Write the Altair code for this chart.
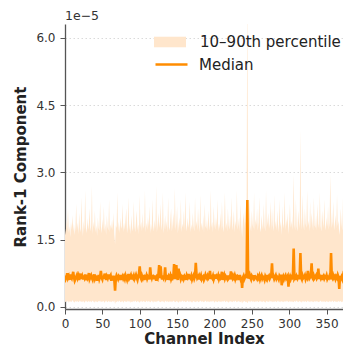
import altair as alt
import pandas as pd

# Values in units of 1e-5
median = [
0.70,0.62,0.66,0.75,0.64,0.68,0.60,0.72,0.66,0.63,0.70,0.78,0.65,0.58,0.62,0.67,
0.71,0.64,0.69,0.60,0.66,0.74,0.63,0.68,0.61,0.70,0.65,0.72,0.59,0.66,0.63,0.69,
0.75,0.62,0.66,0.70,0.64,0.60,0.67,0.72,0.63,0.68,0.66,0.58,0.64,0.71,0.62,0.67,
0.80,0.65,0.61,0.69,0.63,0.74,0.66,0.60,0.68,0.64,0.72,0.62,0.67,0.70,0.58,0.65,
0.63,0.69,0.60,0.36,0.64,0.70,0.66,0.62,0.68,0.65,0.71,0.60,0.66,0.69,0.63,0.67,
0.62,0.70,0.65,0.60,0.68,0.73,0.63,0.66,0.70,0.61,0.67,0.64,0.69,0.62,0.66,0.71,
0.65,0.60,0.68,0.74,0.90,0.66,0.62,0.69,0.64,0.71,0.60,0.67,0.65,0.70,0.63,0.68,
0.66,0.61,0.88,0.69,0.64,0.71,0.62,0.67,0.65,0.70,0.58,0.66,0.63,0.72,0.93,0.64,
0.90,0.67,0.61,0.70,0.64,0.68,0.88,0.63,0.66,0.71,0.60,0.68,0.65,0.70,0.62,0.67,
0.64,0.69,0.95,0.62,0.68,0.93,0.65,0.60,0.85,0.66,0.70,0.62,0.67,0.64,0.71,0.63,
0.68,0.65,0.60,0.70,0.66,0.73,0.62,0.67,0.64,0.69,0.61,0.66,0.70,0.63,0.68,0.98,
0.72,0.64,0.67,0.61,0.69,0.65,0.70,0.62,0.66,0.68,0.60,0.64,0.71,0.66,0.63,0.69,
0.65,0.70,0.80,0.62,0.67,0.64,0.69,0.61,0.66,0.72,0.63,0.68,0.65,0.70,0.62,0.67,
0.64,0.69,0.78,0.60,0.66,0.71,0.63,0.68,0.65,0.62,0.70,0.64,0.67,0.61,0.79,0.66,
0.63,0.69,0.65,0.70,0.62,0.67,0.64,0.68,0.66,0.60,0.71,0.63,0.67,0.42,0.65,0.69,
0.62,0.66,0.70,0.64,2.38,0.63,0.68,0.72,0.65,0.61,0.69,0.66,0.63,0.70,0.64,0.67,
0.65,0.62,0.68,0.64,0.69,0.61,0.66,0.70,0.63,0.67,0.65,0.60,0.68,0.64,0.71,0.62,
0.66,0.69,0.63,0.67,0.70,0.97,0.64,0.68,0.62,0.66,0.70,0.63,0.67,0.65,0.61,0.69,
0.66,0.72,0.48,0.64,0.68,0.62,0.67,0.70,0.63,0.66,0.69,0.45,0.64,0.68,0.62,0.67,
0.65,0.70,1.30,0.63,0.66,0.60,0.68,0.64,0.71,0.62,0.67,1.20,0.65,0.61,0.69,0.64,
0.66,0.70,0.62,0.67,0.64,0.80,0.68,0.63,0.66,0.71,0.97,0.65,0.62,0.69,0.64,0.67,
0.70,0.63,0.66,0.85,0.62,0.68,0.64,0.71,0.60,0.66,0.69,0.63,0.67,0.65,0.70,0.62,
0.66,0.64,0.69,0.61,1.20,0.66,0.63,0.70,0.65,0.68,0.62,0.67,0.64,0.71,0.66,0.40,
0.69,0.63,0.67,0.62,0.70,0.65,0.68,0.60,0.66,0.71,0.63,0.67,0.64,0.69,0.62,0.66,
]

p10 = [
0.12,0.10,0.13,0.11,0.14,0.09,0.12,0.13,0.10,0.12,0.15,0.11,0.12,0.09,0.13,0.12,
0.11,0.13,0.10,0.12,0.14,0.11,0.12,0.10,0.13,0.12,0.09,0.11,0.14,0.12,0.10,0.13,
0.12,0.11,0.13,0.10,0.12,0.14,0.11,0.12,0.09,0.13,0.12,0.10,0.11,0.13,0.12,0.14,
0.10,0.12,0.11,0.13,0.12,0.09,0.12,0.14,0.11,0.10,0.13,0.12,0.11,0.12,0.10,0.13,
0.12,0.11,0.14,0.06,0.12,0.10,0.13,0.11,0.12,0.14,0.10,0.12,0.11,0.13,0.09,0.12,
0.13,0.11,0.12,0.10,0.14,0.12,0.11,0.13,0.09,0.12,0.10,0.13,0.12,0.11,0.14,0.12,
0.10,0.13,0.12,0.11,0.09,0.12,0.14,0.10,0.12,0.13,0.11,0.12,0.10,0.14,0.12,0.11,
0.13,0.12,0.10,0.11,0.14,0.12,0.09,0.13,0.11,0.12,0.10,0.13,0.12,0.14,0.11,0.12,
0.10,0.12,0.13,0.11,0.12,0.09,0.14,0.12,0.11,0.13,0.10,0.12,0.12,0.11,0.13,0.10,
0.12,0.14,0.11,0.12,0.10,0.13,0.12,0.11,0.09,0.12,0.13,0.10,0.12,0.14,0.11,0.12,
0.13,0.10,0.12,0.11,0.14,0.12,0.10,0.13,0.12,0.11,0.09,0.12,0.13,0.11,0.12,0.10,
0.12,0.13,0.11,0.10,0.12,0.14,0.12,0.11,0.13,0.10,0.12,0.11,0.14,0.12,0.10,0.13,
0.11,0.12,0.10,0.13,0.12,0.11,0.14,0.12,0.09,0.13,0.11,0.12,0.10,0.12,0.13,0.11,
0.12,0.10,0.13,0.12,0.11,0.14,0.12,0.10,0.13,0.11,0.12,0.09,0.12,0.13,0.11,0.12,
0.10,0.13,0.12,0.11,0.14,0.12,0.10,0.12,0.13,0.11,0.12,0.10,0.13,0.07,0.12,0.11,
0.13,0.12,0.10,0.12,0.08,0.11,0.13,0.12,0.10,0.14,0.12,0.11,0.13,0.10,0.12,0.12,
0.11,0.13,0.12,0.10,0.12,0.14,0.11,0.12,0.10,0.13,0.12,0.11,0.09,0.12,0.13,0.11,
0.12,0.10,0.14,0.12,0.11,0.13,0.10,0.12,0.12,0.11,0.13,0.10,0.12,0.14,0.11,0.12,
0.10,0.13,0.12,0.11,0.12,0.10,0.13,0.12,0.11,0.14,0.12,0.10,0.13,0.11,0.12,0.12,
0.11,0.12,0.10,0.13,0.12,0.11,0.14,0.12,0.10,0.12,0.13,0.11,0.12,0.09,0.13,0.12,
0.12,0.11,0.13,0.10,0.12,0.14,0.11,0.12,0.10,0.13,0.12,0.11,0.12,0.10,0.13,0.12,
0.11,0.13,0.12,0.10,0.12,0.11,0.14,0.12,0.10,0.13,0.11,0.12,0.12,0.10,0.13,0.11,
0.12,0.10,0.13,0.12,0.11,0.12,0.14,0.10,0.12,0.13,0.11,0.12,0.10,0.12,0.13,0.11,
0.12,0.13,0.10,0.12,0.11,0.14,0.12,0.10,0.13,0.12,0.11,0.12,0.10,0.13,0.12,0.11,
]

p90 = [
1.75,1.60,1.95,1.70,2.20,1.65,1.80,1.55,1.90,1.72,2.05,1.68,1.85,1.60,1.78,2.30,
1.70,1.88,1.62,2.10,1.75,1.66,2.45,1.80,1.58,1.92,1.70,2.60,1.76,1.64,1.98,1.72,
1.85,2.20,1.68,1.80,2.70,1.62,1.90,1.74,2.15,1.66,1.82,1.58,2.00,1.76,1.70,2.35,
1.80,1.64,1.96,1.72,2.25,1.68,1.86,1.60,2.05,1.78,1.70,2.40,1.66,1.84,1.74,1.95,
1.70,2.10,1.62,1.40,1.82,1.76,2.55,1.68,1.90,1.64,2.00,1.74,1.80,2.30,1.66,1.88,
1.72,1.95,2.20,1.64,1.78,2.45,1.70,1.86,1.62,2.05,1.76,1.68,2.35,1.80,1.66,1.92,
2.15,1.70,1.84,1.62,2.50,1.76,1.90,1.68,2.10,1.74,1.82,2.60,1.66,1.88,1.72,2.00,
1.78,2.25,1.64,1.86,1.70,2.40,1.80,1.68,1.95,1.74,2.70,1.66,1.84,2.10,1.76,1.90,
2.30,1.70,1.86,2.55,1.64,1.80,2.05,1.72,1.92,1.66,2.45,1.78,1.70,1.96,2.20,1.68,
1.84,2.10,1.74,2.65,1.70,1.88,2.25,1.64,1.80,2.00,1.72,2.40,1.66,1.86,1.76,2.15,
1.70,2.55,1.82,1.68,2.00,1.76,1.90,2.35,1.66,1.84,1.72,2.10,1.80,1.68,2.45,1.78,
1.92,1.70,2.20,1.84,1.66,2.50,1.76,1.88,1.70,2.05,1.64,2.30,1.80,1.74,1.96,1.68,
2.15,1.82,1.70,2.60,1.76,1.90,1.66,2.25,1.84,1.72,2.00,1.78,2.40,1.68,1.86,1.74,
2.10,1.70,2.35,1.80,1.66,1.95,2.55,1.74,1.88,1.68,2.20,1.82,1.72,2.05,1.76,2.45,
1.70,1.86,2.15,1.66,1.92,1.78,2.60,1.72,1.84,2.00,1.68,2.30,1.80,1.55,1.90,2.10,
1.76,2.25,1.86,2.05,7.50,1.90,1.72,2.40,1.80,1.68,2.15,1.84,1.74,2.55,1.70,1.96,
1.82,2.20,1.70,1.88,2.45,1.76,1.66,2.05,1.84,1.72,2.30,1.80,1.68,2.60,1.78,1.90,
2.10,1.74,1.86,2.35,1.70,2.20,1.82,1.68,2.50,1.76,1.92,1.70,2.15,1.84,1.66,2.40,
1.78,1.90,1.60,2.25,1.74,1.86,2.55,1.70,1.96,1.80,2.10,1.62,1.88,2.30,1.76,1.92,
1.72,2.05,2.95,1.84,1.70,2.40,1.80,1.68,2.15,1.90,1.76,3.95,2.00,1.72,2.50,1.84,
1.70,2.20,1.86,1.76,2.60,1.80,1.92,1.68,2.35,1.74,2.10,1.88,1.70,2.45,1.82,1.76,
2.05,1.70,2.30,1.86,1.74,2.55,1.80,1.68,2.15,1.92,1.76,2.40,1.84,1.70,2.00,1.78,
2.25,1.72,1.88,2.95,2.10,1.76,1.90,2.35,1.70,1.84,2.05,1.74,2.50,1.80,1.92,1.60,
1.76,2.20,1.86,1.70,2.45,1.82,1.74,2.05,1.90,1.68,2.30,1.80,1.76,2.15,1.86,1.72,
]

x_ticks = [0, 50, 100, 150, 200, 250, 300, 350]
y_ticks = [0.0, 1.5, 3.0, 4.5, 6.0]

df = pd.DataFrame({
    "ch": list(range(len(median))),
    "median": median,
    "p10": p10,
    "p90": p90,
    "band": "10–90th percentile",
    "med": "Median",
})

FONT = "DejaVu Sans"

x_axis = alt.Axis(title="Channel Index", values=x_ticks, grid=False,
                  labelOverlap=False, labelFlush=False)
y_axis = alt.Axis(title="Rank-1 Component", values=y_ticks, format=".1f",
                  labelOverlap=False, labelFlush=False,
                  grid=True, gridDash=[1.5, 2.5], gridColor="#d0d0d0", gridWidth=0.8)
x_scale = alt.Scale(domain=[0, 372], nice=False, zero=False)
y_scale = alt.Scale(domain=[-0.05, 6.31], nice=False, zero=False)

band = alt.Chart(df).mark_area(clip=True, opacity=1, interpolate="linear").encode(
    x=alt.X("ch:Q", scale=x_scale, axis=x_axis),
    y=alt.Y("p10:Q", scale=y_scale, axis=y_axis),
    y2="p90:Q",
    fill=alt.Fill("band:N", scale=alt.Scale(domain=["10–90th percentile"], range=["#ffe6cc"]),
                  legend=alt.Legend(orient="none", legendX=89, legendY=2, title=None,
                                    symbolType="M-1,-0.33H1V0.33H-1Z", symbolSize=1024,
                                    symbolStrokeWidth=0, symbolOpacity=1,
                                    labelFontSize=15, labelFont=FONT, labelColor="#222",
                                    labelOffset=14, padding=0)),
)

line = alt.Chart(df).mark_line(clip=True, strokeWidth=2.6, strokeJoin="miter").encode(
    x=alt.X("ch:Q", scale=x_scale, axis=x_axis),
    y=alt.Y("median:Q", scale=y_scale, axis=y_axis),
    stroke=alt.Stroke("med:N", scale=alt.Scale(domain=["Median"], range=["#ff8c00"]),
                      legend=alt.Legend(orient="none", legendX=89, legendY=23, title=None,
                                        symbolType="stroke", symbolSize=1024,
                                        symbolStrokeWidth=2.4,
                                        labelFontSize=15, labelFont=FONT, labelColor="#222",
                                        labelOffset=10, padding=0)),
)

chart = alt.layer(band, line).resolve_legend(fill="independent", stroke="independent").properties(
    width=278,
    height=285,
    autosize=alt.AutoSizeParams(type="none"),
    padding={"left": 57, "top": 16, "right": 0, "bottom": 39},
    title=alt.TitleParams("1e−5", anchor="start", frame="group", fontSize=12.5,
                          fontWeight="normal", font=FONT, color="#333", offset=2),
).configure_view(stroke=None).configure_axis(
    labelFont=FONT, titleFont=FONT, labelFontSize=12, titleFontSize=15,
    titleFontWeight="bold", titleColor="#222", labelColor="#333",
    domainColor="#555", domainWidth=1.3, tickColor="#555", tickSize=5, tickWidth=1,
).configure_axisX(labelPadding=4, titlePadding=2).configure_axisY(labelPadding=5, titlePadding=7)

chart.save("out.html", embed_options={"renderer": "svg", "actions": False})
